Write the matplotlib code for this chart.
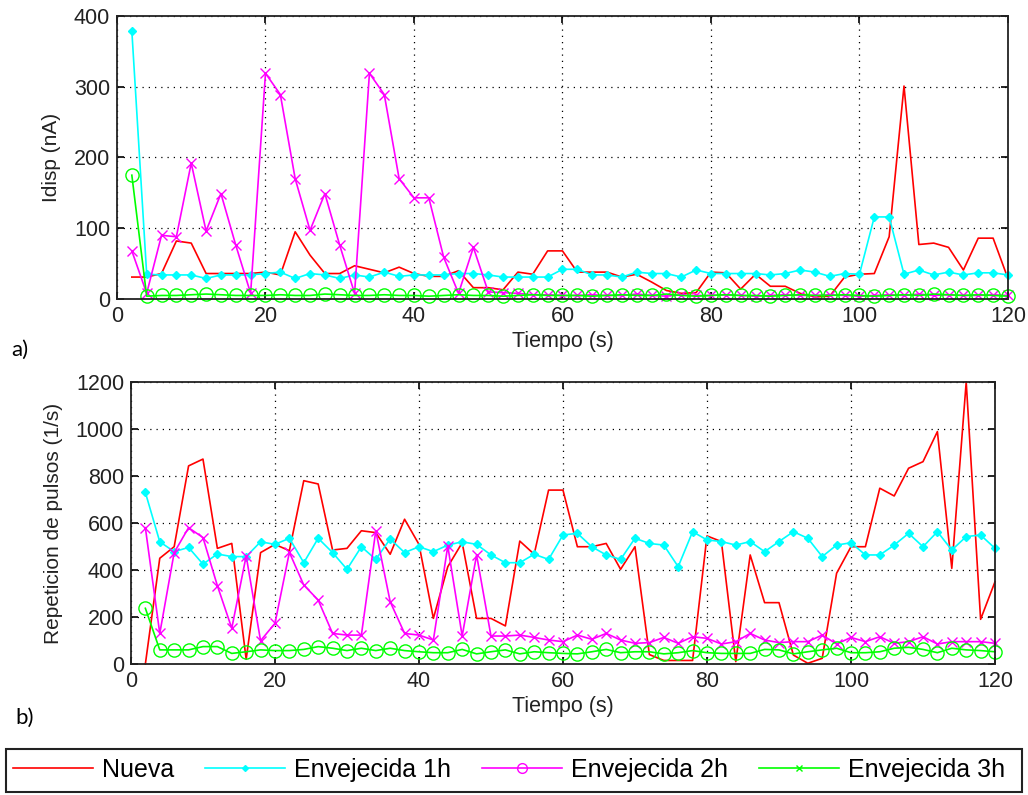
import matplotlib
matplotlib.use("Agg")
import matplotlib.pyplot as plt
from matplotlib.lines import Line2D
from matplotlib.patches import Rectangle

plt.rcParams['font.family'] = ['Liberation Sans', 'DejaVu Sans']

# Sample times (s)
tiempo = list(range(2, 121, 2))

# a) Idisp (nA)
idisp_nueva = [31, 31, 36, 82, 79, 36, 36, 36, 36, 38, 34, 95, 62, 36, 36, 47, 42, 37, 45, 36,
               32, 32, 40, 16, 16, 13, 38, 35, 68, 68, 38, 38, 38, 31, 35, 24, 12, 8, 9, 38,
               37, 14, 35, 18, 18, 8, 3, 4, 31, 35, 36, 88, 301, 77, 79, 73, 41, 86, 86, 29]
idisp_1h = [379, 35, 34, 34, 34, 29, 34, 34, 34, 36, 38, 29, 36, 34, 29, 34, 31, 38, 32, 34,
            34, 34, 36, 36, 34, 31, 31, 31, 31, 42, 42, 34, 34, 31, 38, 36, 36, 31, 41, 36,
            36, 36, 36, 34, 36, 41, 38, 32, 36, 35, 116, 116, 35, 41, 34, 38, 34, 37, 37, 34]
idisp_2h = [68, 8, 90, 88, 192, 96, 149, 76, 8, 319, 289, 170, 97, 149, 76, 8, 319, 289, 170, 143,
            143, 59, 8, 73, 10, 9, 8, 6, 6, 5, 5, 6, 5, 5, 7, 5, 4, 6, 5, 5,
            6, 5, 4, 5, 6, 5, 5, 6, 5, 4, 5, 6, 5, 7, 5, 6, 5, 5, 6, 5]
idisp_3h = [175, 4, 5, 5, 6, 7, 6, 5, 5, 5, 6, 5, 5, 7, 6, 5, 5, 6, 5, 5,
            4, 5, 6, 5, 5, 4, 5, 6, 5, 5, 5, 4, 5, 6, 5, 5, 7, 5, 4, 5,
            6, 5, 5, 4, 5, 6, 5, 5, 6, 5, 4, 5, 6, 5, 7, 6, 5, 6, 5, 4]

# b) Repeticion de pulsos (1/s)
rep_nueva = [0, 450, 499, 843, 872, 492, 513, 20, 474, 509, 482, 780, 766, 485, 492, 567, 559, 467, 616, 509,
             194, 414, 516, 194, 194, 162, 523, 467, 740, 740, 499, 499, 513, 403, 499, 40, 15, 15, 15, 545,
             521, 10, 464, 261, 261, 38, 3, 24, 386, 499, 499, 748, 715, 833, 861, 989, 407, 1200, 190, 350]
rep_1h = [730, 520, 478, 496, 425, 468, 457, 457, 520, 509, 535, 431, 535, 474, 403, 499, 445, 532, 474, 499,
          478, 506, 520, 509, 464, 431, 431, 467, 445, 549, 556, 499, 464, 445, 535, 513, 506, 414, 563, 528,
          521, 506, 521, 478, 521, 563, 535, 457, 506, 516, 464, 464, 506, 556, 499, 563, 485, 542, 549, 492]
rep_2h = [580, 130, 474, 580, 538, 333, 152, 460, 99, 173, 475, 336, 272, 130, 123, 123, 567, 265, 130, 123,
          102, 502, 119, 464, 119, 119, 123, 113, 102, 95, 123, 105, 130, 102, 88, 91, 113, 88, 116, 109,
          85, 95, 130, 102, 91, 95, 95, 123, 85, 113, 95, 116, 88, 95, 116, 85, 95, 95, 95, 88]
rep_3h = [237, 60, 60, 60, 74, 74, 45, 52, 60, 57, 57, 62, 74, 67, 57, 67, 57, 67, 57, 52,
          48, 48, 62, 43, 52, 60, 43, 52, 48, 45, 43, 52, 62, 48, 52, 52, 43, 48, 57, 48,
          45, 45, 45, 62, 60, 43, 52, 60, 67, 48, 48, 52, 67, 71, 62, 48, 67, 60, 57, 52]

series_labels = ['Nueva', 'Envejecida 1h', 'Envejecida 2h', 'Envejecida 3h']
x_ticks = [0, 20, 40, 60, 80, 100, 120]
idisp_ticks = [0, 100, 200, 300, 400]
rep_ticks = [0, 200, 400, 600, 800, 1000, 1200]

RED, CYAN, MAGENTA, GREEN = '#ff0000', '#00ffff', '#ff00ff', '#00ff00'
INK = '#222222'

fig = plt.figure(figsize=(10.28, 7.95), dpi=100)
ax1 = fig.add_axes([0.1138, 0.6239, 0.8667, 0.3560])
ax2 = fig.add_axes([0.1274, 0.1648, 0.8405, 0.3547])


def draw(ax, nueva, e1, e2, e3):
    ax.plot(tiempo, nueva, color=RED, lw=1.2)
    ax.plot(tiempo, e1, color=CYAN, lw=1.2, marker='D', ms=4.5, mfc=CYAN, mec=CYAN)
    ax.plot(tiempo, e2, color=MAGENTA, lw=1.2, marker='x', ms=6.5, mew=1.0)
    ax.plot(tiempo, e3, color=GREEN, lw=1.2, marker='o', ms=9.5, mfc='none', mec=GREEN, mew=1.0)
    for ln in ax.lines:
        ln.set_clip_on(False)


def style(ax, yticks, ylabel):
    ax.set_xlim(0, 120)
    ax.set_ylim(yticks[0], yticks[-1])
    ax.set_xticks(x_ticks)
    ax.set_yticks(yticks)
    ax.grid(True, color='black', linestyle=(0, (1, 4)), linewidth=0.9)
    ax.tick_params(direction='in', top=True, right=True, length=5, width=1.2,
                   labelsize=15.5, pad=5, colors='black', labelcolor=INK)
    for s in ax.spines.values():
        s.set_linewidth(1.3)
        s.set_color(INK)
    ax.set_xlabel('Tiempo (s)', fontsize=15.5, color=INK)
    ax.xaxis.set_label_coords(0.5, -0.112)
    ax.set_ylabel(ylabel, fontsize=15, labelpad=9, color=INK)


draw(ax1, idisp_nueva, idisp_1h, idisp_2h, idisp_3h)
draw(ax2, rep_nueva, rep_1h, rep_2h, rep_3h)
style(ax1, idisp_ticks, 'Idisp (nA)')
style(ax2, rep_ticks, 'Repeticion de pulsos (1/s)')

fig.text(0.011, 1 - 350 / 795, 'a)', fontsize=16, family=['Lato', 'DejaVu Sans'], va='center', ha='left')
fig.text(0.015, 1 - 718 / 795, 'b)', fontsize=16, family=['Lato', 'DejaVu Sans'], va='center', ha='left')

# Legend entries laid out in one row inside a full-width box
handles = [
    Line2D([], [], color=RED, lw=1.2),
    Line2D([], [], color=CYAN, lw=1.2, marker='D', ms=3, mfc=CYAN, mec=CYAN),
    Line2D([], [], color=MAGENTA, lw=1.2, marker='o', ms=7, mfc='none', mec=MAGENTA),
    Line2D([], [], color=GREEN, lw=1.2, marker='x', ms=5),
]
fig.legend(handles, series_labels, loc='center left',
           bbox_to_anchor=(13 / 1028, 1 - 770 / 795),
           ncol=4, fontsize=18, handlelength=3.2, handletextpad=0.35,
           columnspacing=1.25, borderaxespad=0, borderpad=0, frameon=False)
fig.patches.append(Rectangle((6 / 1028, 1 - 792 / 795), 1016 / 1028, 43 / 795,
                             transform=fig.transFigure, fill=False,
                             edgecolor=INK, linewidth=1.5))

fig.savefig('out.png', dpi=100)
